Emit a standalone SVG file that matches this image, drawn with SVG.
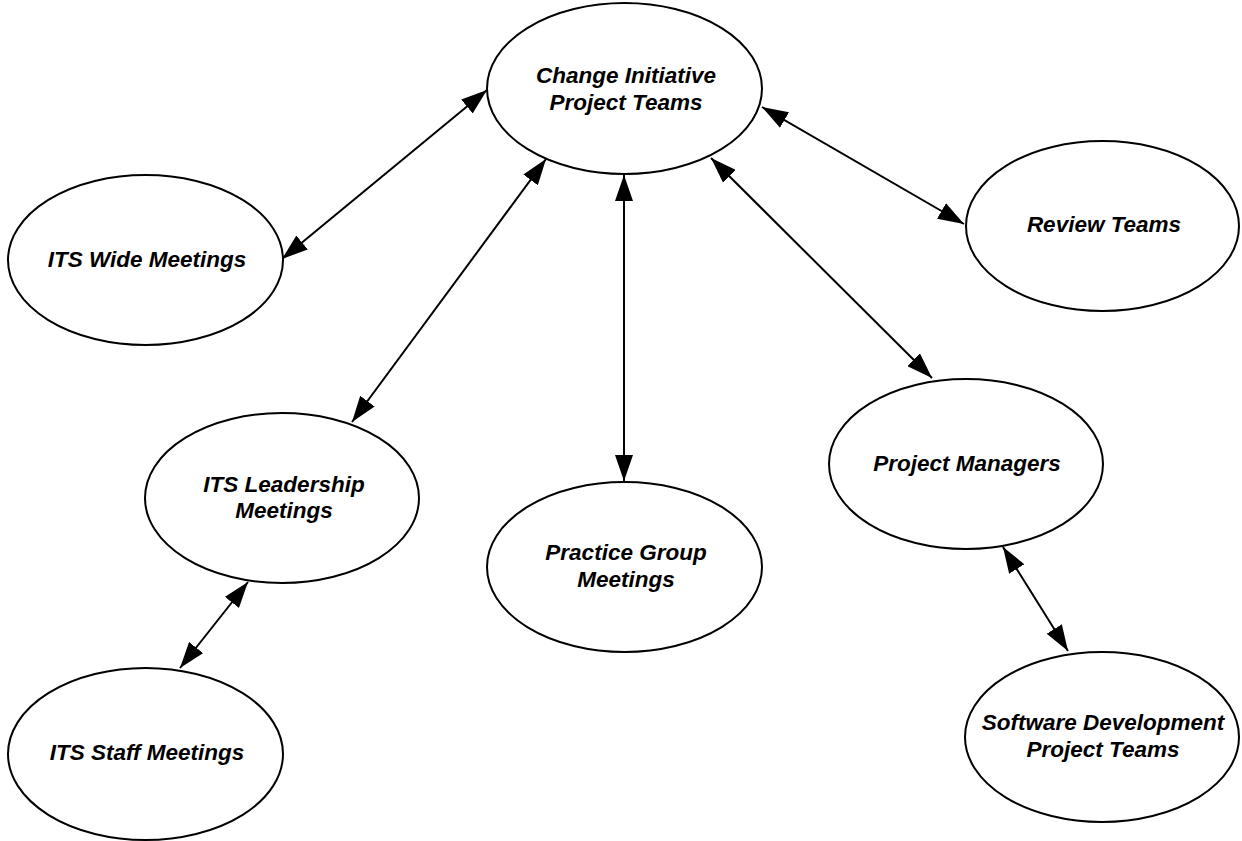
<svg xmlns="http://www.w3.org/2000/svg" width="1242" height="841" viewBox="0 0 1242 841">
<style>
.node ellipse{fill:#fff;stroke:#000;stroke-width:2}
.node text{font-family:"Liberation Sans",Arial,sans-serif;font-weight:bold;font-style:italic;font-size:22.5px;fill:#000;text-anchor:middle}
.conn line{stroke:#000;stroke-width:2;marker-start:url(#ah);marker-end:url(#ah)}
</style>
<defs>
<marker id="ah" markerUnits="userSpaceOnUse" markerWidth="26" markerHeight="18" refX="26" refY="9" orient="auto-start-reverse">
<path d="M0,0 L26,9 L0,18 z" fill="#000"/>
</marker>
</defs>
<rect width="1242" height="841" fill="#fff"/>
<g id="connectors" class="conn">
<line x1="487" y1="90" x2="282" y2="259"/>
<line x1="762" y1="107" x2="964" y2="224"/>
<line x1="546" y1="159" x2="352" y2="422"/>
<line x1="624" y1="175" x2="624" y2="481"/>
<line x1="711" y1="158" x2="932" y2="378"/>
<line x1="248" y1="582" x2="180" y2="668"/>
<line x1="1003" y1="547" x2="1068" y2="651"/>
</g>
<g id="n-change" class="node"><ellipse cx="624.5" cy="88.5" rx="137.5" ry="85.5"/><text x="626" y="83">Change Initiative</text><text x="626" y="110">Project Teams</text></g>
<g id="n-itswide" class="node"><ellipse cx="145.5" cy="260" rx="137.5" ry="85"/><text x="147" y="267">ITS Wide Meetings</text></g>
<g id="n-review" class="node"><ellipse cx="1102.5" cy="226" rx="136.5" ry="85"/><text x="1104" y="232">Review Teams</text></g>
<g id="n-leadership" class="node"><ellipse cx="282" cy="498" rx="137" ry="85"/><text x="284" y="492">ITS Leadership</text><text x="284" y="518">Meetings</text></g>
<g id="n-practice" class="node"><ellipse cx="624.5" cy="567" rx="137.5" ry="85"/><text x="626" y="560">Practice Group</text><text x="626" y="587">Meetings</text></g>
<g id="n-pm" class="node"><ellipse cx="966" cy="464" rx="137" ry="85"/><text x="967" y="471">Project Managers</text></g>
<g id="n-staff" class="node"><ellipse cx="145.5" cy="754" rx="137.5" ry="86"/><text x="147" y="760">ITS Staff Meetings</text></g>
<g id="n-software" class="node"><ellipse cx="1102" cy="737" rx="137" ry="85"/><text x="1103" y="730">Software Development</text><text x="1103" y="757">Project Teams</text></g>
</svg>
